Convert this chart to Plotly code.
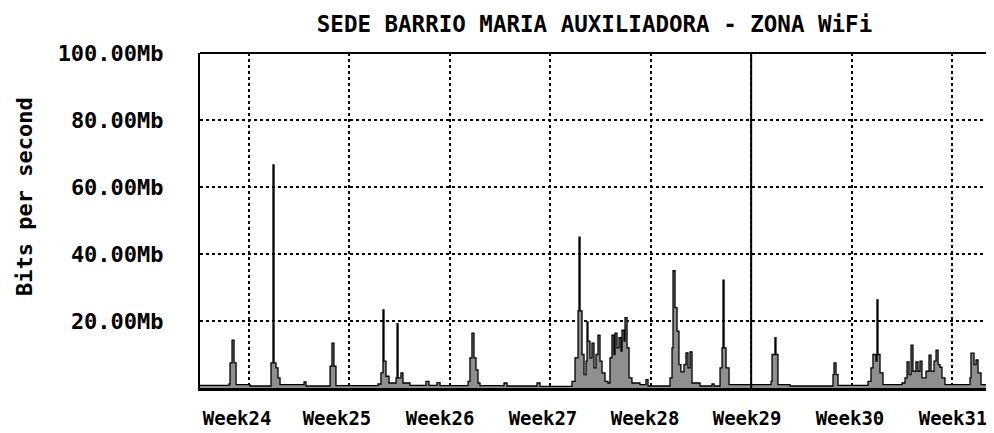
import plotly.graph_objects as go

# ---- data (x in week units, y in Mb/s) ----
weeks = [23.512, 23.801, 23.811, 23.831, 23.851, 23.871, 24.010,
         24.219, 24.239, 24.249, 24.269, 24.289, 24.309, 24.548, 24.568,
         24.807, 24.826, 24.846, 24.866, 25.284, 25.314, 25.334, 25.344,
         25.364, 25.394, 25.464, 25.474, 25.484, 25.513, 25.533, 25.603,
         25.762, 25.792, 25.872, 25.902, 26.181, 26.200, 26.220, 26.240,
         26.260, 26.280, 26.300, 26.539, 26.569, 26.868, 26.898,
         27.216, 27.246, 27.276, 27.286, 27.296, 27.316, 27.336, 27.356,
         27.366, 27.375, 27.395, 27.415, 27.435, 27.455, 27.475, 27.495,
         27.515, 27.545, 27.574, 27.594, 27.614, 27.634, 27.644, 27.664,
         27.684, 27.704, 27.714, 27.734, 27.744, 27.764, 27.784, 27.813,
         27.893, 27.953, 27.973,
         28.192, 28.212, 28.222, 28.242, 28.262, 28.281, 28.301, 28.331,
         28.351, 28.371, 28.391, 28.411, 28.491, 28.610, 28.630,
         28.690, 28.710, 28.720, 28.730, 28.750, 28.780,
         29.198, 29.208, 29.237, 29.247, 29.267, 29.387,
         29.815, 29.825, 29.845, 29.865,
         30.163, 30.193, 30.213, 30.243, 30.253, 30.263, 30.283, 30.313,
         30.502, 30.532, 30.552, 30.572, 30.592, 30.611, 30.641, 30.661,
         30.681, 30.701, 30.741, 30.771, 30.791, 30.821, 30.841, 30.861,
         30.880, 30.900, 30.930,
         31.179, 31.189, 31.219, 31.239, 31.259, 31.289, 31.418]
mbps = [0.8, 1.2, 7.5, 14.3, 7.5, 1.0, 0.6,
        7.5, 66.6, 7.5, 6.0, 3.0, 1.0, 1.8, 0.6,
        6.5, 13.4, 6.5, 0.7, 1.2, 4.5, 23.3, 8.0,
        3.5, 1.5, 3.0, 19.2, 3.0, 4.5, 1.5, 0.8,
        2.0, 0.8, 1.6, 0.7, 2.0, 9.0, 16.4, 9.0,
        5.4, 1.5, 0.7, 1.5, 0.6, 1.5, 0.5,
        2.0, 9.0, 23.0, 45.0, 23.0, 10.0, 4.0, 8.0,
        19.7, 14.0, 9.0, 13.4, 6.0, 10.0, 15.8, 8.0,
        4.5, 2.0, 1.5, 9.0, 15.8, 10.0, 16.4, 12.0,
        15.0, 11.0, 17.3, 14.0, 21.0, 12.0, 3.0, 1.5,
        1.0, 2.5, 0.6,
        3.0, 12.0, 35.0, 24.0, 17.0, 7.0, 4.8, 7.0,
        10.5, 6.0, 10.8, 1.5, 0.6, 1.2, 0.6,
        6.0, 12.0, 32.2, 12.0, 6.0, 1.0,
        2.0, 10.0, 15.0, 10.0, 1.0, 0.6,
        4.0, 7.5, 4.0, 0.8,
        2.0, 6.0, 10.0, 8.0, 26.3, 10.0, 4.5, 1.0,
        1.5, 3.0, 7.8, 4.0, 12.8, 5.0, 7.8, 5.0,
        8.0, 3.0, 5.0, 9.8, 5.0, 8.0, 11.3, 7.0,
        6.2, 3.0, 1.0,
        3.0, 10.4, 7.0, 8.4, 4.5, 1.0, 0.8]

week_grid = [24, 25, 26, 27, 28, 29, 30, 31]
week_label_pos = [23.881, 24.876, 25.902, 26.927, 27.943, 28.959, 29.984, 31.010]
week_labels = ["Week24", "Week25", "Week26", "Week27", "Week28", "Week29", "Week30", "Week31"]
y_ticks = [20, 40, 60, 80, 100]
y_labels = ["20.00Mb", "40.00Mb", "60.00Mb", "80.00Mb", "100.00Mb"]
month_mark = 29

FONT = "DejaVu Sans Mono"
FS = 22
# the page body has an 8px margin, so the figure is drawn 8px smaller
W, H = 986, 425

def b(t):
    return "<b>" + t + "</b>"

fig = go.Figure()
fig.add_trace(go.Scatter(
    x=weeks, y=mbps, mode="lines", line_shape="hv",
    line=dict(color="black", width=1.3),
    fill="tozeroy", fillcolor="#8f8f8f", hoverinfo="skip", showlegend=False))

fig.update_layout(
    width=W, height=H,
    margin=dict(l=192, r=0, t=45, b=45, autoexpand=False),
    paper_bgcolor="white", plot_bgcolor="white",
    font=dict(family=FONT, size=FS, color="black"),
    title=dict(text=b("SEDE BARRIO MARIA AUXILIADORA - ZONA WiFi"),
               x=586.5 / W, xanchor="center", y=1 - 16 / H, yanchor="middle",
               font=dict(family=FONT, size=22.5, color="black"), automargin=False),
    showlegend=False,
)
fig.update_xaxes(
    range=[23.512, 31.418], tickmode="array", tickvals=week_label_pos,
    ticktext=[b(t) for t in week_labels],
    showgrid=False, zeroline=False, ticks="", ticklabelstandoff=11, automargin=False,
    showline=True, linecolor="black", linewidth=3,
    minor=dict(tickmode="array", tickvals=week_grid, showgrid=True,
               gridcolor="black", griddash="dot", gridwidth=2, ticks=""),
    tickfont=dict(family=FONT, size=19, color="black"),
)
fig.update_yaxes(
    range=[0, 100], tickmode="array", tickvals=y_ticks,
    ticktext=[b(t) for t in y_labels],
    showgrid=True, gridcolor="black", griddash="dot", gridwidth=2,
    zeroline=False, ticks="", ticklabelstandoff=30, automargin=False,
    showline=True, linecolor="black", linewidth=2,
    tickfont=dict(family=FONT, size=FS, color="black"),
)
# solid month marker and top border
fig.add_shape(type="line", xref="x", yref="y", x0=month_mark, x1=month_mark, y0=0, y1=100,
              line=dict(color="black", width=2))
fig.add_shape(type="line", xref="paper", yref="paper", x0=0, x1=1, y0=1, y1=1,
              line=dict(color="black", width=2))
fig.add_annotation(text=b("Bits per second"), xref="paper", yref="paper",
                   x=(16 - 192) / 794, y=(388 - 197) / 335, textangle=-90,
                   showarrow=False, xanchor="center", yanchor="middle",
                   font=dict(family=FONT, size=FS, color="black"))

fig.write_html("out.html")
